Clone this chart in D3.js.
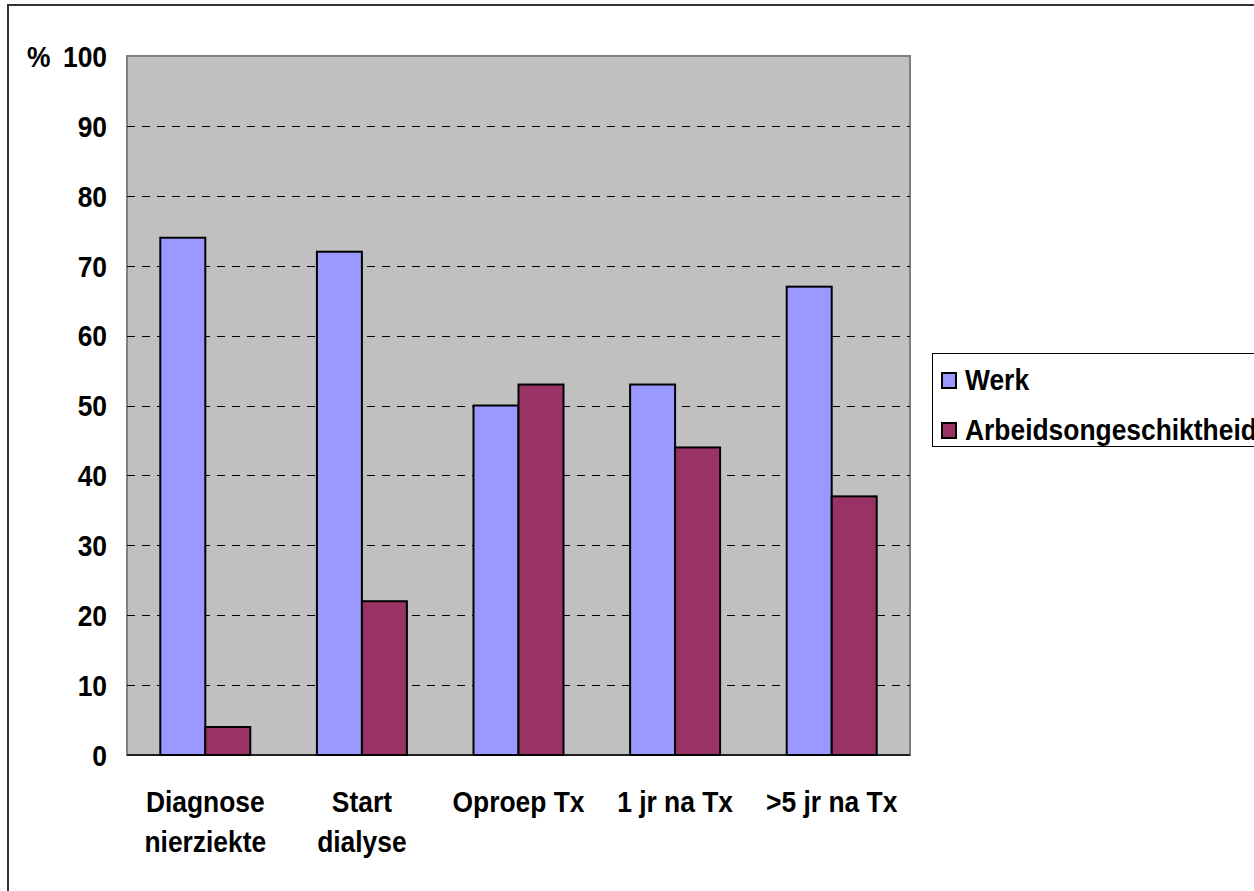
<!DOCTYPE html>
<html><head><meta charset="utf-8">
<script src="https://cdn.jsdelivr.net/npm/d3@7"></script>
<style>body{margin:0;background:#fff}svg{display:block}text{font-family:"Liberation Sans",Arial,sans-serif;font-weight:bold;fill:#000}</style>
</head><body>
<svg id="c" width="1254" height="891"></svg>
<script>
const categories = [["Diagnose","nierziekte"],["Start","dialyse"],["Oproep Tx"],["1 jr na Tx"],[">5 jr na Tx"]];
const seriesNames = ["Werk","Arbeidsongeschiktheid"];
const werk = [74,72,50,53,67];
const arbeid = [4,22,53,44,37];
const yTicks = [0,10,20,30,40,50,60,70,80,90,100];
const colors = ["#9999FF","#993366"];

const svg = d3.select("#c");
const L=127,R=910,T=56,B=755;
const fs=30, sx=0.88;
function txt(x,y,s,anchor,dy){
  return svg.append("text").attr("transform",`translate(${x},${y}) scale(${sx},1)`)
    .attr("text-anchor",anchor||"start").attr("dy",dy||0).style("font-size",fs+"px").text(s);
}
// outer frame
svg.append("rect").attr("x",8).attr("y",5).attr("width",1300).attr("height",1000)
  .attr("fill","#fff").attr("stroke","#333").attr("stroke-width",2);

const x0 = d3.scaleBand().domain(d3.range(categories.length)).range([L,R]);
const y = d3.scaleLinear().domain([0,100]).range([B,T]);

svg.append("rect").attr("x",L).attr("y",T).attr("width",R-L).attr("height",B-T)
  .attr("fill","#C0C0C0").attr("stroke","#808080").attr("stroke-width",2);

// gridlines
svg.append("g").selectAll("line").data(yTicks.filter(d=>d>0 && d<100)).join("line")
  .attr("x1",L).attr("x2",R).attr("y1",d=>Math.round(y(d))+0.5).attr("y2",d=>Math.round(y(d))+0.5)
  .attr("stroke","#000").attr("stroke-width",1).attr("stroke-dasharray","8,7");

const series=[werk,arbeid];
const bw = 45;
series.forEach((vals,si)=>{
  svg.append("g").selectAll("rect").data(vals).join("rect")
    .attr("x",(d,i)=>x0(i)+x0.bandwidth()/2 - bw + si*bw)
    .attr("y",d=>y(d)).attr("width",bw).attr("height",d=>B-y(d))
    .attr("fill",colors[si]).attr("stroke","#000").attr("stroke-width",2);
});

// axis line
svg.append("line").attr("x1",L).attr("x2",R).attr("y1",B).attr("y2",B).attr("stroke","#000").attr("stroke-width",1.5);

// y axis labels
yTicks.forEach(v=>txt(107,y(v),String(v),"end","0.36em"));
txt(27,y(100),"%","start","0.36em");

// x labels
categories.forEach((lines,i)=>{
  lines.forEach((l,j)=>txt(x0(i)+x0.bandwidth()/2, 812+j*40, l, "middle"));
});

// legend
svg.append("rect").attr("x",932.5).attr("y",353.5).attr("width",400).attr("height",93).attr("fill","#fff").attr("stroke","#000").attr("stroke-width",1);
seriesNames.forEach((n,i)=>{
  const yy = 390 + i*50;
  svg.append("rect").attr("x",942).attr("y",yy-17).attr("width",14).attr("height",15).attr("fill",colors[i]).attr("stroke","#000").attr("stroke-width",2);
  txt(965,yy,n,"start");
});
</script>
</body></html>
